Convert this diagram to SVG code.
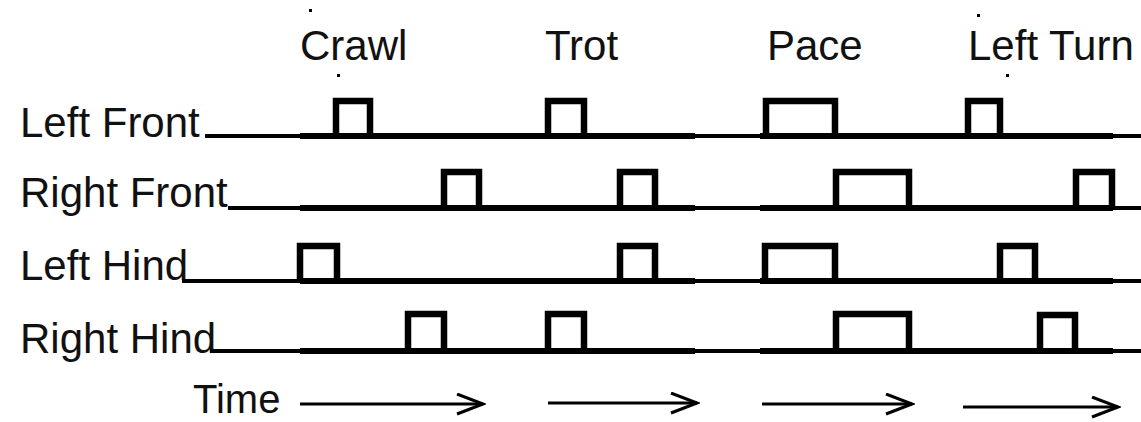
<svg xmlns="http://www.w3.org/2000/svg" width="1141" height="422" viewBox="0 0 1141 422">
<style>
.lbl{font-family:"Liberation Sans",Arial,sans-serif;font-size:42px;fill:#111}
.thin{stroke:#000;stroke-width:4;fill:none}
.thick{stroke:#000;stroke-width:6;fill:none}
.pulse{stroke:#000;stroke-width:6.5;fill:none;stroke-linejoin:miter}
.arr{stroke:#000;stroke-width:3;fill:none}
.dot{fill:#000}
</style>
<defs>
<marker id="chev" markerUnits="userSpaceOnUse" markerWidth="30" markerHeight="24" refX="27" refY="11" orient="auto" viewBox="0 0 30 24">
<path d="M1,1 L27,11 L1,21" fill="none" stroke="#000" stroke-width="3"/>
</marker>
</defs>
<rect width="1141" height="422" fill="#fff"/>
<g id="titles">
<g id="title-crawl"><text class="lbl" x="300" y="60">Crawl</text></g>
<g id="title-trot"><text class="lbl" x="545" y="60">Trot</text></g>
<g id="title-pace"><text class="lbl" x="767" y="60">Pace</text></g>
<g id="title-leftturn"><text class="lbl" x="968" y="60">Left Turn</text></g>
<rect class="dot" x="309" y="9" width="3" height="3"/>
<rect class="dot" x="337" y="74" width="3" height="3"/>
<rect class="dot" x="977" y="14" width="3" height="3"/>
<rect class="dot" x="1006" y="74" width="3" height="3"/>
</g>
<g id="row-left-front">
<text class="lbl" x="20" y="137">Left Front</text>
<line class="thin" x1="205" y1="136" x2="1141" y2="136"/>
<line class="thick" x1="300" y1="136" x2="695" y2="136"/>
<line class="thick" x1="760" y1="136" x2="1113" y2="136"/>
<path class="pulse" d="M336,136V101H370V136"/>
<path class="pulse" d="M548,136V101H584V136"/>
<path class="pulse" d="M766,136V101H835V136"/>
<path class="pulse" d="M968,136V101H1000V136"/>
</g>
<g id="row-right-front">
<text class="lbl" x="20" y="207">Right Front</text>
<line class="thin" x1="228" y1="208" x2="1141" y2="208"/>
<line class="thick" x1="300" y1="208" x2="695" y2="208"/>
<line class="thick" x1="760" y1="208" x2="1113" y2="208"/>
<path class="pulse" d="M444,208V172H479V208"/>
<path class="pulse" d="M620,208V172H655V208"/>
<path class="pulse" d="M836,208V172H909V208"/>
<path class="pulse" d="M1076,208V172H1112V208"/>
</g>
<g id="row-left-hind">
<text class="lbl" x="20" y="280">Left Hind</text>
<line class="thin" x1="182" y1="281" x2="1141" y2="281"/>
<line class="thick" x1="300" y1="281" x2="695" y2="281"/>
<line class="thick" x1="760" y1="281" x2="1113" y2="281"/>
<path class="pulse" d="M300,281V246H337V281"/>
<path class="pulse" d="M620,281V246H655V281"/>
<path class="pulse" d="M765,281V246H835V281"/>
<path class="pulse" d="M1000,281V246H1035V281"/>
</g>
<g id="row-right-hind">
<text class="lbl" x="20" y="353">Right Hind</text>
<line class="thin" x1="210" y1="351" x2="1141" y2="351"/>
<line class="thick" x1="300" y1="351" x2="695" y2="351"/>
<line class="thick" x1="760" y1="351" x2="1113" y2="351"/>
<path class="pulse" d="M408,351V314H444V351"/>
<path class="pulse" d="M548,351V314H584V351"/>
<path class="pulse" d="M836,351V314H909V351"/>
<path class="pulse" d="M1040,351V315H1075V351"/>
</g>
<g id="time-label"><text class="lbl" x="193" y="413" style="font-size:40px">Time</text></g>
<g id="connectors">
<line class="arr" x1="300" y1="404" x2="483" y2="404" marker-end="url(#chev)"/>
<line class="arr" x1="548" y1="403" x2="697" y2="403" marker-end="url(#chev)"/>
<line class="arr" x1="762" y1="404" x2="912" y2="404" marker-end="url(#chev)"/>
<line class="arr" x1="963" y1="407" x2="1118" y2="407" marker-end="url(#chev)"/>
</g>
</svg>
